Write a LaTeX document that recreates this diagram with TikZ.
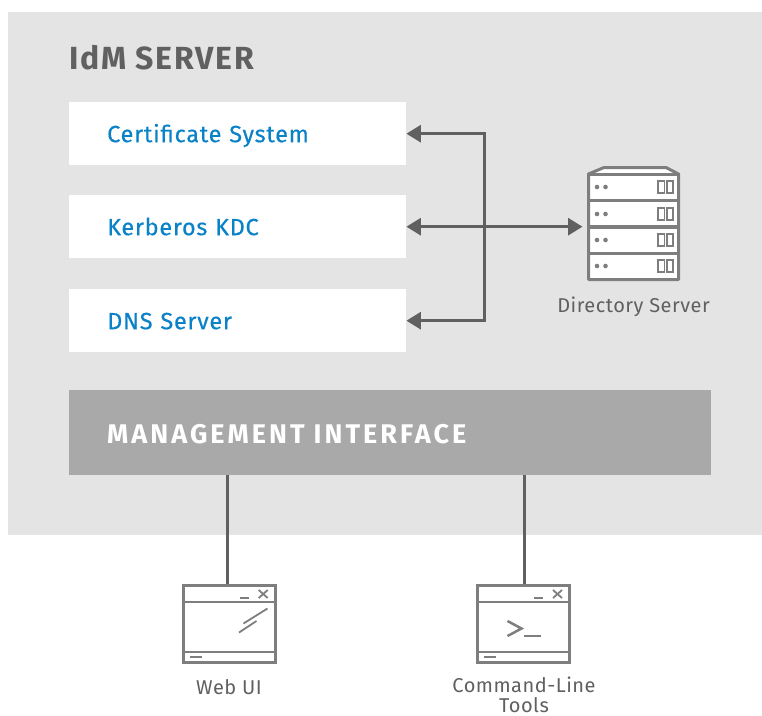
\documentclass[tikz,border=0pt]{standalone}
\usepackage{fontspec}
\setmainfont[LetterSpace=2.5]{Fira Sans}
\newfontfamily\servicefont[LetterSpace=3,FakeBold=0.4]{Fira Sans}
\newfontfamily\titlefont[LetterSpace=5.6]{Fira Sans Bold}
\newfontfamily\capsfont[LetterSpace=11.2]{Fira Sans Bold}
\usetikzlibrary{arrows.meta}
\definecolor{panel}{HTML}{E4E4E4}
\definecolor{mgmt}{HTML}{A9A9A9}
\definecolor{ink}{HTML}{606060}
\definecolor{icon}{HTML}{7E7E7E}
\definecolor{blue}{HTML}{0A82C8}
\tikzset{
  x=1pt,y=-1pt,
  service/.style={fill=white,text=blue,minimum height=63pt,text width=261pt,text height=17pt,text depth=0pt,inner xsep=38pt,inner ysep=0pt,align=left,font=\fontsize{23.5}{26}\servicefont},
  link/.style={draw=ink,line width=3pt},
  tip/.style={-{Triangle[length=14.5pt,width=17pt,fill=ink]},draw=ink,line width=3pt},
  caption/.style={text=ink,font=\fontsize{20}{20.5}\selectfont,align=center,inner sep=0pt},
  iconline/.style={draw=icon,line width=3pt},
  thinline/.style={draw=icon,line width=1.8pt},
}
\newcommand{\windowicon}[2]{%
  % #1 left outer x of the icon, #2 node name
  \node[minimum width=92pt,minimum height=77pt,inner sep=0pt,fill=white,draw=icon,line width=3pt,anchor=north west] (#2) at (#1,584.3) {};
  \draw[thinline,line width=2pt] (#1,602) -- (#1+95,602);
  \draw[thinline,line width=2pt] (#1,652) -- (#1+95,652);
  \draw[thinline] (#1+58,598) -- (#1+67,598);
  \draw[thinline] (#1+77,590) -- (#1+86,598);
  \draw[thinline] (#1+86,590) -- (#1+77,598);
  \draw[thinline] (#1+8,657) -- (#1+20,657);
}
\begin{document}
\begin{tikzpicture}
\useasboundingbox (0,0) rectangle (762,715);
\fill[white] (0,0) rectangle (762,715);
\fill[panel] (8,12) rectangle (762,535);
\node[anchor=base west,text=ink,inner sep=0pt,font=\fontsize{32}{36}\titlefont] (title) at (69,69) {IdM SERVER};
\node[service,anchor=north west] (cert) at (69,102) {Certificate System};
\node[service,anchor=north west] (kdc) at (69,195) {Kerberos KDC};
\node[service,anchor=north west] (dns) at (69,289) {DNS Server};
\node[fill=mgmt,text=white,minimum width=642pt,minimum height=85pt,text width=566pt,text height=21pt,text depth=0pt,inner xsep=38pt,inner ysep=0pt,align=left,anchor=north west,font=\fontsize{27}{30}\capsfont] (manage) at (69,390) {MANAGEMENT INTERFACE};
% server icon
\node[minimum width=90pt,minimum height=106pt,inner sep=0pt,anchor=north west] (server) at (588.5,173.5) {};
\filldraw[fill=white,draw=icon,line width=3pt,line join=round] (588.5,174) -- (604,167.5) -- (666,167.5) -- (678.5,174) -- (678.5,279.5) -- (588.5,279.5) -- cycle;
\draw[iconline] (587,174.5) -- (680,174.5);
\draw[iconline] (587,200.5) -- (680,200.5);
\draw[iconline,line width=3.5pt] (587,227) -- (680,227);
\draw[iconline] (587,253) -- (680,253);
\foreach \y in {187,214,240,266}{
  \fill[icon] (597,\y) circle (2.3pt);
  \fill[icon] (605.5,\y) circle (2.3pt);
  \draw[thinline] (658,\y-6) rectangle (664.5,\y+6);
  \draw[thinline] (667,\y-6) rectangle (673,\y+6);
}
\node[caption,anchor=base] (dslabel) at (633.5,312) {Directory Server};
% windows
\windowicon{181.7}{webui}
\draw[thinline] (243.5,623.5) -- (267.5,608.5);
\draw[thinline] (239,632.5) -- (256.5,621);
\node[caption,anchor=base] (weblabel) at (229,694) {Web UI};
\windowicon{476}{cli}
\draw[iconline,line width=2.5pt] (507.5,621) -- (521.5,628.5) -- (507.5,636);
\draw[iconline,line width=2.5pt] (523.5,636) -- (540.5,636);
\node[caption,anchor=north] (clilabel) at (524,676.5) {Command-Line\\Tools};
% connectors
\coordinate (bus) at (484,227);
\draw[tip] (bus |- cert.east) -- (cert.east);
\draw[tip] (bus |- dns.east) -- (dns.east);
\draw[link] ([yshift=1.5pt]bus |- cert.east) -- ([yshift=-1.5pt]bus |- dns.east);
\draw[tip,{Triangle[length=14.5pt,width=17pt,fill=ink]}-{Triangle[length=14.5pt,width=17pt,fill=ink]},shorten >=6pt] (kdc.east) -- (kdc.east -| server.west);
\draw[link] ([xshift=-1.5pt]webui.north |- manage.south) -- ([xshift=-1.5pt]webui.north);
\draw[link] ([xshift=0.8pt]cli.north |- manage.south) -- ([xshift=0.8pt]cli.north);
\end{tikzpicture}
\end{document}
